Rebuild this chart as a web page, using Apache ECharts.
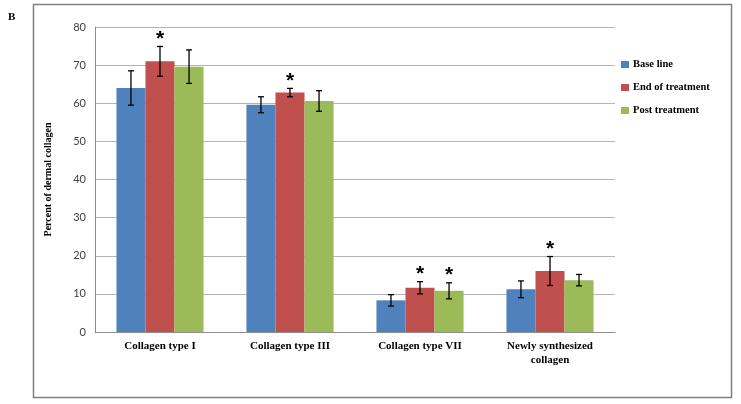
<!DOCTYPE html>
<html>
<head>
<meta charset="utf-8">
<script src="https://cdn.jsdelivr.net/npm/echarts@6/dist/echarts.min.js"></script>
<style>
  html, body { margin: 0; padding: 0; background: #fff; }
  #chart { width: 741px; height: 404px; }
</style>
</head>
<body>
<div id="chart"></div>
<script>
const categories = ['Collagen type I', 'Collagen type III', 'Collagen type VII', 'Newly synthesized\ncollagen'];
const seriesNames = ['Base line', 'End of treatment', 'Post treatment'];
const baseLine = [64.0, 59.6, 8.3, 11.2];
const endOfTreatment = [71.0, 62.8, 11.6, 16.0];
const postTreatment = [69.6, 60.6, 10.8, 13.6];
const baseLineErr = [4.5, 2.1, 1.5, 2.2];
const endOfTreatmentErr = [3.9, 1.1, 1.6, 3.8];
const postTreatmentErr = [4.4, 2.7, 2.1, 1.5];
// significance markers (*)
const baseLineStar = [0, 0, 0, 0];
const endOfTreatmentStar = [1, 1, 1, 1];
const postTreatmentStar = [0, 0, 1, 0];

const colors = ['#4F81BD', '#C0504D', '#9BBB59'];
const values = [baseLine, endOfTreatment, postTreatment];
const errs = [baseLineErr, endOfTreatmentErr, postTreatmentErr];
const stars = [baseLineStar, endOfTreatmentStar, postTreatmentStar];
const gapRatio = 0.33;

const chart = echarts.init(document.getElementById('chart'));

function errorSeries(k) {
    return {
        name: seriesNames[k],
        type: 'custom',
        z: 10,
        clip: false,
        encode: { x: 0, y: 1 },
        data: values[k].map((v, i) => [i, v, errs[k][i], stars[k][i]]),
        renderItem: function (params, api) {
            const idx = api.value(0);
            const v = api.value(1);
            const e = api.value(2);
            const band = api.size([1, 0])[0];
            const bw = band * (1 - gapRatio) / 3;
            const x = api.coord([idx, v])[0] + (k - 1) * bw;
            const top = api.coord([idx, v + e])[1];
            const bot = api.coord([idx, v - e])[1];
            const st = { stroke: '#000', lineWidth: 1.3 };
            const children = [
                { type: 'line', shape: { x1: x, y1: top, x2: x, y2: bot }, style: st },
                { type: 'line', shape: { x1: x - 3, y1: top, x2: x + 3, y2: top }, style: st },
                { type: 'line', shape: { x1: x - 3, y1: bot, x2: x + 3, y2: bot }, style: st }
            ];
            if (api.value(3)) {
                children.push({
                    type: 'text',
                    style: {
                        text: '*', x: x, y: top + 3,
                        align: 'center', verticalAlign: 'bottom',
                        font: 'bold 21px "Liberation Sans"', fill: '#000'
                    }
                });
            }
            return { type: 'group', children: children };
        }
    };
}

const option = {
    animation: false,
    backgroundColor: '#fff',
    graphic: [
        {
            type: 'rect',
            shape: { x: 33.5, y: 4.5, width: 698, height: 393 },
            style: { fill: 'none', stroke: '#7f7f7f', lineWidth: 1.5 }
        },
        {
            type: 'text',
            left: 8, top: 12,
            style: { text: 'B', font: 'bold 11px "Liberation Serif"', fill: '#000' }
        }
    ],
    legend: {
        orient: 'vertical',
        left: 621,
        top: 59,
        padding: 0,
        itemWidth: 8,
        itemHeight: 7,
        itemGap: 12,
        data: seriesNames.map((n, k) => ({ name: n, icon: 'rect', itemStyle: { color: colors[k] } })),
        textStyle: { fontFamily: 'Liberation Serif', fontWeight: 'bold', fontSize: 10.5, color: '#000', padding: [0, 0, 0, -1] }
    },
    grid: { left: 95, right: 126, top: 27, bottom: 72 },
    xAxis: {
        type: 'category',
        data: categories,
        axisLine: { lineStyle: { color: '#8c8c8c' } },
        axisTick: { show: false },
        axisLabel: {
            fontFamily: 'Liberation Serif', fontWeight: 'bold', fontSize: 11,
            color: '#000', margin: 7, interval: 0, lineHeight: 14
        }
    },
    yAxis: {
        type: 'value',
        min: 0, max: 80, interval: 10,
        name: 'Percent of dermal collagen',
        nameLocation: 'middle',
        nameGap: 42,
        nameTextStyle: { fontFamily: 'Liberation Serif', fontWeight: 'bold', fontSize: 10, color: '#000' },
        axisLine: { show: true, lineStyle: { color: '#8c8c8c' } },
        axisTick: { show: false },
        axisLabel: { fontFamily: 'Lato', fontSize: 11, color: '#404040', margin: 9 },
        splitLine: { lineStyle: { color: '#b3b3b3' } }
    },
    series: [
        ...values.map((d, k) => ({
            name: seriesNames[k],
            type: 'bar',
            data: d,
            barGap: '0%',
            barCategoryGap: (gapRatio * 100) + '%',
            itemStyle: { color: colors[k] }
        })),
        errorSeries(0), errorSeries(1), errorSeries(2)
    ]
};

chart.setOption(option);
</script>
</body>
</html>
